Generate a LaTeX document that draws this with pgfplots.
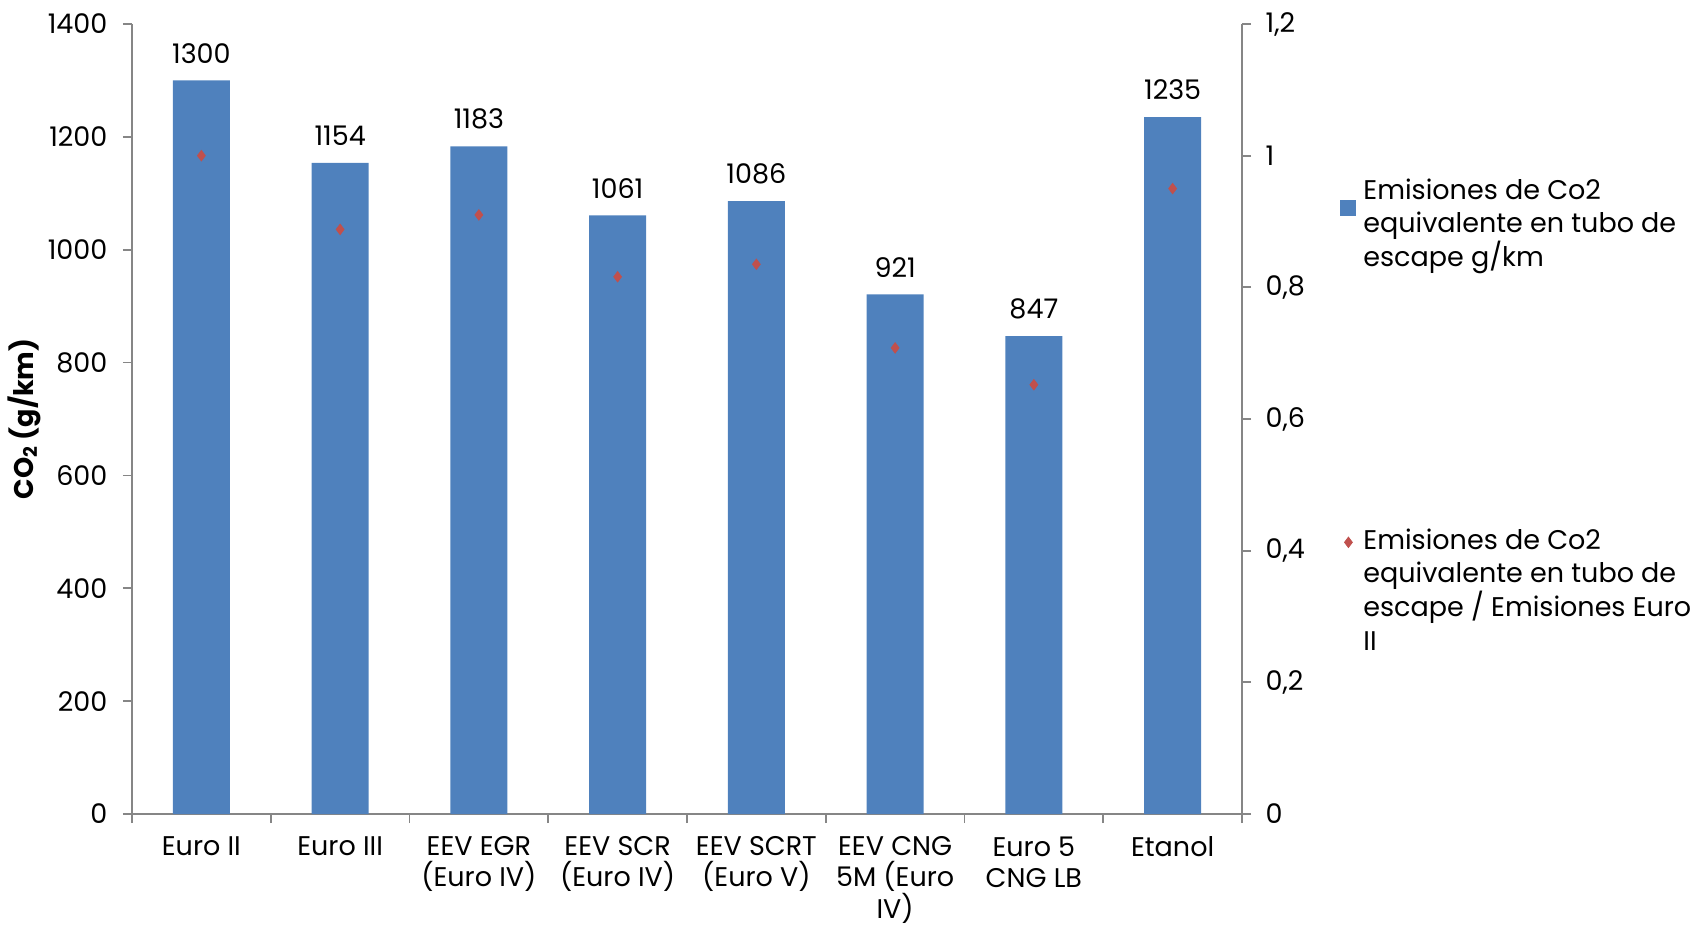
\documentclass[border=0pt]{standalone}
\usepackage{fontspec}
\setmainfont{Poppins}
\usepackage{pgfplots}
\pgfplotsset{compat=1.18}
\definecolor{barblue}{HTML}{4F81BD}
\definecolor{mkred}{HTML}{C0504D}
\definecolor{axgray}{HTML}{868686}
\newcommand{\cf}{\fontsize{13.5}{16.8}\selectfont}
\pgfplotsset{
  squarelegend/.style={legend image code/.code={\fill[##1] (0pt,-8.5pt) rectangle (8pt,-0.5pt);}},
  diamondlegend/.style={legend image code/.code={\path[draw=none,fill=none] (0pt,0pt) rectangle (8pt,1pt);\path[draw=none,fill=none] plot[mark=diamond*, mark size=2.6pt, mark options={draw=mkred, fill=mkred}] coordinates {(4pt,3.5pt)};}},
}
\begin{document}
\begin{tikzpicture}
\begin{axis}[
  at={(66pt,56.5pt)}, anchor=south west,
  scale only axis, width=555pt, height=395pt,
  xmin=-0.5, xmax=7.5, ymin=0, ymax=1400,
  axis x line*=bottom, axis y line*=left,
  axis line style={axgray, line width=0.9pt},
  tick style={axgray, line width=0.9pt},
  major tick length=4.5pt,
  xtick align=outside, ytick align=outside,
  xtick={-0.5,0.5,1.5,2.5,3.5,4.5,5.5,6.5,7.5},
  x tick label as interval,
  xticklabels={Euro II, Euro III, {EEV EGR\\(Euro IV)}, {EEV SCR\\(Euro IV)}, {EEV SCRT\\(Euro V)}, {EEV CNG\\5M (Euro\\IV)}, {Euro 5\\CNG LB}, Etanol},
  xticklabel style={align=center, font=\fontsize{13.5}{15.6}\selectfont, yshift=-3.3pt},
  ytick={0,200,400,600,800,1000,1200,1400},
  scaled y ticks=false,
  /pgf/number format/1000 sep={},
  /pgf/number format/assume math mode=true,
  yticklabel style={font=\cf, xshift=-4.3pt},
  every axis y label/.style={at={(rel axis cs:-0.0973,0.5)}, rotate=90, anchor=center, font=\cf\bfseries},
  ylabel={CO\textsubscript{2} (g/km)},
  ybar, bar width=0.41,
  nodes near coords,
  every node near coord/.append style={font=\cf, anchor=south, yshift=5pt, text=black},
  legend style={at={(1.0883,0.8083)}, anchor=north west, draw=none, fill=none, inner sep=0pt, column sep=3.5pt, nodes={inner sep=0pt}, cells={anchor=base west}, font=\cf},
]
\addplot[fill=barblue, draw=none, squarelegend] coordinates {
  (0,1300) (1,1154) (2,1183) (3,1061) (4,1086) (5,921) (6,847) (7,1235)};
\addlegendentry{\parbox[t]{175pt}{\strut Emisiones de Co2\\equivalente en tubo de\\escape g/km}}
\end{axis}
\begin{axis}[
  at={(66pt,56.5pt)}, anchor=south west,
  scale only axis, width=555pt, height=395pt,
  xmin=-0.5, xmax=7.5, ymin=0, ymax=1.2,
  axis x line=none, axis y line*=right,
  axis line style={axgray, line width=0.9pt},
  tick style={axgray, line width=0.9pt},
  major tick length=4.5pt,
  ytick align=outside,
  ytick={0,0.2,0.4,0.6,0.8,1,1.2},
  /pgf/number format/use comma,
  /pgf/number format/assume math mode=true,
  yticklabel style={font=\cf, /pgf/number format/fixed, xshift=3.8pt},
  legend style={at={(1.0883,0.3653)}, anchor=north west, draw=none, fill=none, inner sep=0pt, column sep=3.5pt, nodes={inner sep=0pt}, cells={anchor=base west}, font=\cf},
]
\addplot[only marks, mark=diamond*, mark size=2.6pt, color=mkred, diamondlegend] coordinates {
  (0,1.000) (1,0.888) (2,0.910) (3,0.816) (4,0.835) (5,0.708) (6,0.652) (7,0.950)};
\addlegendentry{\parbox[t]{175pt}{\strut Emisiones de Co2\\equivalente en tubo de\\escape / Emisiones Euro\\II}}
\end{axis}
\pgfresetboundingbox
\path[use as bounding box] (0,0) rectangle (846pt,463.5pt);
\end{tikzpicture}
\end{document}
